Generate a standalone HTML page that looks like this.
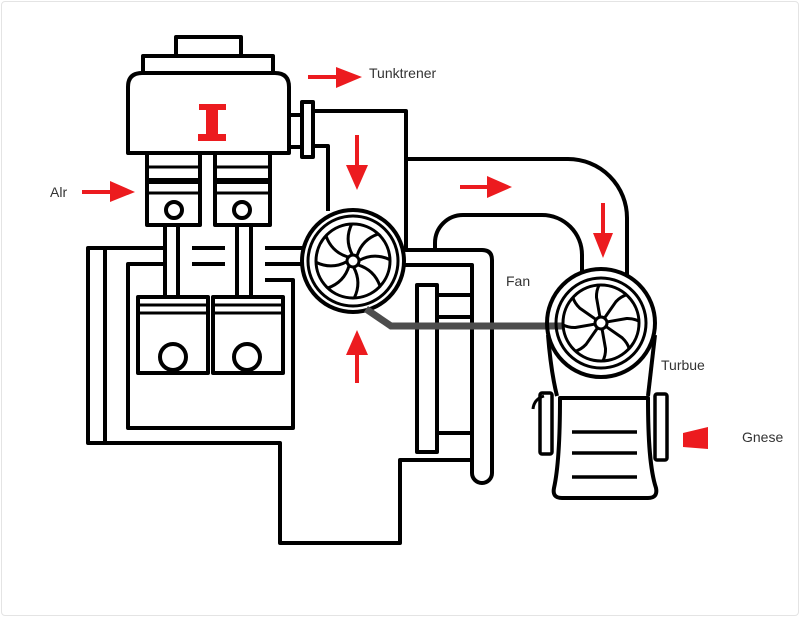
<!DOCTYPE html>
<html><head><meta charset="utf-8"><style>
html,body{margin:0;padding:0;background:#fff;}
.wrap{position:relative;width:800px;height:617px;overflow:hidden;background:#fff;}
.frame{position:absolute;left:1px;top:1px;width:796px;height:613px;border:1px solid #e4e4e4;border-radius:4px;}
svg{position:absolute;left:0;top:0;}
text{font-family:"Liberation Sans",Arial,sans-serif;font-size:14px;fill:#333;}
</style></head><body><div class="wrap"><div class="frame"></div>
<svg width="800" height="617" viewBox="0 0 800 617" xmlns="http://www.w3.org/2000/svg">
<g fill="none" stroke="#000" stroke-width="4" stroke-linejoin="round">
  <!-- head -->
  <rect x="176" y="37" width="65" height="19"/>
  <rect x="143" y="56" width="130" height="17"/>
  <path d="M128,153 V87 Q128,73 142,73 H275 Q289,73 289,87 V153 Z"/>
  <rect x="289" y="115" width="13" height="32"/>
  <rect x="302" y="102" width="11" height="55"/>
  <!-- pipes -->
  <path d="M313,111 H406 V250 H482 Q492,250 492,260 V473 A10,10 0 0 1 472,473 V265 H404"/>
  <path d="M313,146 H328 V211"/>
  <path d="M406,159 H568 A59,59 0 0 1 627,218 V277"/>
  <path d="M435,250 V243 A28,28 0 0 1 463,215 H542 A40,40 0 0 1 582,255 V273"/>
  <!-- engine block -->
  <path d="M163,248 H88 V443 H280 V543 H400 V460 H472"/>
  <line x1="105" y1="248" x2="105" y2="443"/>
  <path d="M163,264 H128 V428 H293 V280 H265"/>
  <path d="M192,248 H225 M192,264 H225 M265,248 H304 M265,264 H302"/>
  <!-- upper pistons -->
  <rect x="147" y="153" width="53" height="72"/>
  <rect x="215" y="153" width="55" height="72"/>
  <path stroke-width="3" d="M147,167 H200 M147,193 H200 M215,167 H270 M215,193 H270"/>
  <path stroke-width="6" d="M147,181 H200 M215,181 H270"/>
  <circle cx="174" cy="210" r="8"/>
  <circle cx="242" cy="210" r="8"/>
  <path d="M165,225 V297 M178,225 V297 M237,225 V297 M251,225 V297"/>
  <!-- lower pistons -->
  <rect x="138" y="297" width="70" height="76"/>
  <rect x="213" y="297" width="70" height="76"/>
  <path stroke-width="3" d="M138,305 H208 M138,313 H208 M213,305 H283 M213,313 H283"/>
  <circle cx="173" cy="357" r="13"/>
  <circle cx="247" cy="357" r="13"/>
  <!-- middle rect -->
  <rect x="417" y="285" width="20" height="167"/>
  <path d="M437,295 H472 M437,317 H472 M437,433 H472"/>
  <!-- fan 1 -->
  <g transform="translate(353,261)">
    <circle r="51"/>
    <circle r="45" stroke-width="3"/>
    <circle r="37" stroke-width="3"/>
    <circle r="6" stroke-width="3"/>
    <g stroke-width="3">
      <path d="M0,-6 Q-7,-22 2,-37" transform="rotate(-5)"/>
      <path d="M0,-6 Q-7,-22 2,-37" transform="rotate(40)"/>
      <path d="M0,-6 Q-7,-22 2,-37" transform="rotate(85)"/>
      <path d="M0,-6 Q-7,-22 2,-37" transform="rotate(130)"/>
      <path d="M0,-6 Q-7,-22 2,-37" transform="rotate(175)"/>
      <path d="M0,-6 Q-7,-22 2,-37" transform="rotate(220)"/>
      <path d="M0,-6 Q-7,-22 2,-37" transform="rotate(265)"/>
      <path d="M0,-6 Q-7,-22 2,-37" transform="rotate(310)"/>
    </g>
  </g>
  <!-- gray shaft -->
  <path stroke="#4d4d4d" stroke-width="7" stroke-linejoin="miter" d="M366,309 L391,326 H563"/>
  <!-- turbine -->
  <path d="M548,335 C550,360 553,380 557,396"/>
  <path d="M655,335 C652,360 650,380 648,396"/>
  <g transform="translate(601,323)">
    <circle r="54"/>
    <circle r="45" stroke-width="3"/>
    <circle r="38" stroke-width="3"/>
    <circle r="6" stroke-width="3"/>
    <g stroke-width="3">
      <path d="M0,-6 L0,-26 Q1,-33 5,-38" transform="rotate(-10)"/>
      <path d="M0,-6 L0,-26 Q1,-33 5,-38" transform="rotate(35)"/>
      <path d="M0,-6 L0,-26 Q1,-33 5,-38" transform="rotate(80)"/>
      <path d="M0,-6 L0,-26 Q1,-33 5,-38" transform="rotate(125)"/>
      <path d="M0,-6 L0,-26 Q1,-33 5,-38" transform="rotate(170)"/>
      <path d="M0,-6 L0,-26 Q1,-33 5,-38" transform="rotate(215)"/>
      <path d="M0,-6 L0,-26 Q1,-33 5,-38" transform="rotate(260)"/>
      <path d="M0,-6 L0,-26 Q1,-33 5,-38" transform="rotate(305)"/>
    </g>
  </g>
  <path d="M560,398 H648 C648,440 650,470 656,488 Q658,498 648,498 H562 Q552,498 554,488 C558,470 560,440 560,398 Z"/>
  <path stroke-width="3.5" d="M572,432 H637 M572,453 H637 M572,477 H637"/>
  <rect x="540" y="393" width="12" height="61" rx="2" stroke-width="3.5"/>
  <path stroke-width="3" d="M544,396 Q534,399 533,409"/>
  <rect x="655" y="394" width="12" height="66" rx="2" stroke-width="3.5"/>
</g>
<!-- red marks -->
<g fill="#ec1b1f">
  <rect x="199" y="104" width="27" height="6"/>
  <rect x="206" y="104" width="12" height="36"/>
  <rect x="198" y="134" width="28" height="7"/>
  <!-- Air arrow -->
  <rect x="82" y="190" width="30" height="4"/>
  <polygon points="110,181 135,192 110,202"/>
  <!-- top arrow -->
  <rect x="308" y="75" width="31" height="4"/>
  <polygon points="336,67 362,77 336,88"/>
  <!-- down arrow 1 -->
  <rect x="355" y="135" width="4" height="32"/>
  <polygon points="346,165 357,190 368,165"/>
  <!-- right arrow -->
  <rect x="460" y="185" width="30" height="4"/>
  <polygon points="487,176 512,187 487,198"/>
  <!-- down arrow 2 -->
  <rect x="601" y="203" width="4" height="32"/>
  <polygon points="593,233 603,258 613,233"/>
  <!-- up arrow -->
  <polygon points="357,330 368,355 346,355"/>
  <rect x="355" y="353" width="4" height="30"/>
  <!-- trapezoid -->
  <polygon points="683,433 708,427 708,449 683,447"/>
</g>
<text x="50" y="197">Alr</text>
<text x="369" y="78">Tunktrener</text>
<text x="506" y="286">Fan</text>
<text x="661" y="370">Turbue</text>
<text x="742" y="442">Gnese</text>
</svg></div></body></html>
